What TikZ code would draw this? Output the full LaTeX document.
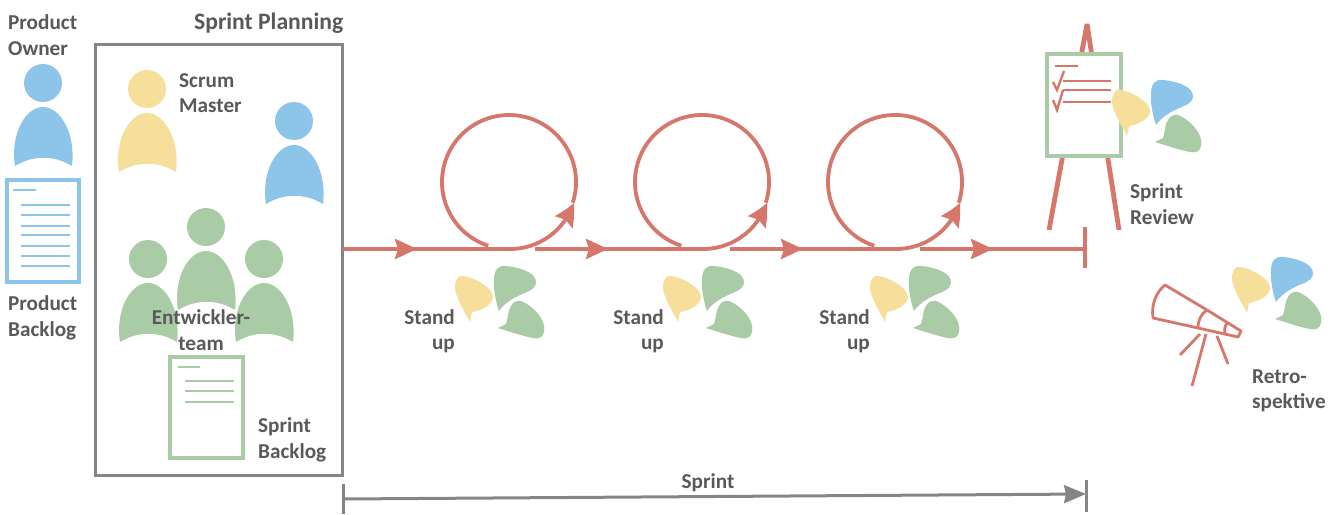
\documentclass[tikz,border=0pt]{standalone}
\usepackage{fontspec}
\setmainfont{Carlito}
\usepackage{tikz}
\usetikzlibrary{arrows.meta}
\usetikzlibrary{bending}
\definecolor{cblue}{HTML}{8CC4EA}
\definecolor{cyellow}{HTML}{F6DF9B}
\definecolor{cgreen}{HTML}{A9CBA5}
\definecolor{cred}{HTML}{D5776B}
\definecolor{cgrey}{HTML}{858585}
\definecolor{ctext}{HTML}{595959}
\tikzset{
  label/.style={font=\fontsize{21.2}{25.3}\selectfont\bfseries, text=ctext, inner sep=0pt, align=left},
  redline/.style={cred, line width=4pt},
  headline/.style={redline, -{Stealth[length=22pt, width=20pt, inset=3pt]}},
  loopline/.style={cred, line width=3.8pt},
  loophead/.style={loopline, -{Stealth[length=22pt, width=21pt, inset=3pt, bend]}},
  greyline/.style={cgrey, line width=3pt},
  sheetline/.style={line width=2.4pt},
  sheet/.style={line width=3.2pt, fill=white},
  scopeline/.style={cred, line width=2.8pt},
}
\newcommand{\person}[3]{
  \begin{scope}[shift={(#2, #3)}]
    \fill [#1] (0, 0) circle (19);
    \fill [#1] (-28, 83)
      .. controls (-33, 50) and (-17, 24) .. (0, 24)
      .. controls (17, 24) and (33, 50) .. (29, 83)
      .. controls (11, 72) and (-10, 72) .. (-28, 83)
      -- cycle;
  \end{scope}
}
\newcommand{\bubbles}[5]{
  \begin{scope}[shift={(#4, #5)}]
    \fill [#1] (-30, 22)
      .. controls (-35, 12) and (-46, -4) .. (-45, -15)
      .. controls (-44, -21) and (-42, -25) .. (-36, -24)
      .. controls (-25, -22) and (-7, -12) .. (-7, -3)
      .. controls (-7, 5) and (-20, 11) .. (-28, 12)
      -- cycle;
    \fill [#2] (-1, 11)
      .. controls (-4, 3) and (-7, -12) .. (-6, -20)
      .. controls (-6, -30) and (-2, -35) .. (6, -34)
      .. controls (18, -33) and (36, -28) .. (36, -18)
      .. controls (36, -10) and (26, -8) .. (18, -4)
      .. controls (10, 0) and (3, 5) .. (-1, 11)
      -- cycle;
    \fill [#3] (-2, 28) -- (6, 24)
      .. controls (8, 18) and (8, 10) .. (11, 6)
      .. controls (13, 2) and (17, 0) .. (21, 1)
      .. controls (32, 5) and (47, 20) .. (44, 32)
      .. controls (43, 38) and (38, 39) .. (33, 38)
      .. controls (22, 36) and (8, 31) .. (-2, 28)
      -- cycle;
  \end{scope}
}

\begin{document}
\begin{tikzpicture}[x=1pt, y=-1pt]
  \useasboundingbox (0, 0) rectangle (1337, 514);

  \node [label, anchor=west] (productowner) at (8, 35) {Product\\Owner};
  \person{cblue}{43}{83}
  \draw [cblue, sheet] (7, 180) rectangle (79, 282);
  \draw [cblue, sheetline] (13, 190) -- ++(23, 0);
  \draw [cblue, sheetline] (21, 205) -- ++(49, 0);
  \draw [cblue, sheetline] (21, 215) -- ++(49, 0);
  \draw [cblue, sheetline] (21, 226) -- ++(49, 0);
  \draw [cblue, sheetline] (21, 235) -- ++(49, 0);
  \draw [cblue, sheetline] (21, 246) -- ++(49, 0);
  \draw [cblue, sheetline] (21, 256) -- ++(49, 0);
  \draw [cblue, sheetline] (21, 266) -- ++(49, 0);
  \node [label, anchor=west] (productbacklog) at (8, 318) {Product\\Backlog};

  \node [label, anchor=west] (sprintplanning) at (194, 23) {\fontsize{23.6}{25}\selectfont Sprint Planning};
  \draw [cgrey, line width=3pt] (95, 44) rectangle (342, 475);
  \person{cyellow}{147}{89}
  \node [label, anchor=west] (scrummaster) at (179, 93) {Scrum\\Master};
  \person{cblue}{294}{121}
  \person{cgreen}{206}{227}
  \person{cgreen}{148}{259}
  \person{cgreen}{264}{259}
  \node [label, align=center] (devteam) at (201, 330) {Entwickler-\\team};
  \draw [cgreen, sheet] (170, 357) rectangle (243, 458);
  \draw [cgreen, sheetline] (178, 367) -- ++(22, 0);
  \draw [cgreen, sheetline] (185, 381) -- ++(49, 0);
  \draw [cgreen, sheetline] (185, 391) -- ++(49, 0);
  \draw [cgreen, sheetline] (185, 402) -- ++(49, 0);
  \node [label, anchor=west] (sprintbacklog) at (258, 440) {Sprint\\Backlog};

  \coordinate (startA) at (343, 249);
  \coordinate (headA) at (417, 249);
  \coordinate (endA) at (510, 249);
  \coordinate (startB) at (535, 249);
  \coordinate (headB) at (608, 249);
  \coordinate (endB) at (703, 249);
  \coordinate (startC) at (730, 249);
  \coordinate (headC) at (803, 249);
  \coordinate (endC) at (896, 249);
  \coordinate (startD) at (920, 249);
  \coordinate (headD) at (993, 249);
  \coordinate (endD) at (1086, 249);
  \coordinate (tickup) at (1085, 227);
  \coordinate (tickdown) at (1085, 268);

  \draw [headline] (startA) -- (headA);
  \draw [redline] (startA) -- (endA);
  \draw [headline] (startB) -- (headB);
  \draw [redline] (startB) -- (endB);
  \draw [headline] (startC) -- (headC);
  \draw [redline] (startC) -- (endC);
  \draw [headline] (startD) -- (headD);
  \draw [redline] (startD) -- (endD);
  \draw [redline] (tickup) -- (tickdown);

  \draw [loopline] (509, 182) ++(108:67) arc (108:378:67);
  \draw [loophead] (endA) arc (90:18:67);
  \draw [loopline] (702, 182) ++(108:67) arc (108:378:67);
  \draw [loophead] (endB) arc (90:18:67);
  \draw [loopline] (895, 182) ++(108:67) arc (108:378:67);
  \draw [loophead] (endC) arc (90:18:67);

  \bubbles{cyellow}{cgreen}{cgreen}{500}{300}
  \node [label, anchor=east, align=right] (standupA) at (455, 331) {Stand\\up};
  \bubbles{cyellow}{cgreen}{cgreen}{708}{300}
  \node [label, anchor=east, align=right] (standupB) at (664, 331) {Stand\\up};
  \bubbles{cyellow}{cgreen}{cgreen}{915}{300}
  \node [label, anchor=east, align=right] (standupC) at (870, 331) {Stand\\up};

  \draw [cred, line width=4.8pt, line join=bevel] (1049, 230) -- (1087, 24) -- (1119, 230);
  \draw [cgreen, sheet] (1047, 54) rectangle (1121, 156);
  \draw [cred, sheetline] (1055, 66) -- ++(23, 0);
  \draw [cred, sheetline] (1063, 81) -- ++(48, 0);
  \draw [cred, sheetline] (1063, 90) -- ++(48, 0);
  \draw [cred, sheetline] (1063, 102) -- ++(48, 0);
  \draw [cred, sheetline] (1053, 82) -- (1057, 90) -- (1064, 71);
  \draw [cred, sheetline] (1053, 100) -- (1057, 110) -- (1063, 90);
  \bubbles{cyellow}{cblue}{cgreen}{1157}{114}
  \node [label, anchor=west] (sprintreview) at (1130, 204) {Sprint\\Review};

  \draw [scopeline, line join=round] (1207, 310) -- (1165, 285)
    .. controls (1156, 292) and (1151, 305) .. (1153, 318) -- (1198, 328)
    .. controls (1198, 320) and (1201, 314) .. (1207, 310);
  \draw [scopeline, line join=round] (1207, 310) -- (1241, 331) -- (1238, 337) -- (1198, 328);
  \draw [scopeline] (1227, 323) .. controls (1225, 326) and (1224, 330) .. (1225, 333);
  \draw [scopeline] (1200, 334) -- (1180, 355);
  \draw [scopeline] (1206, 334) -- (1192, 386);
  \draw [scopeline] (1217, 336) -- (1228, 364);
  \bubbles{cyellow}{cblue}{cgreen}{1277}{291}
  \node [label, anchor=west] (retro) at (1252, 391) {Retro-\\spektive};

  \coordinate (sprintstart) at (343, 499);
  \coordinate (sprintend) at (1086, 494);
  \draw [greyline] (343, 484) -- (343, 514);
  \draw [greyline] (1086, 480) -- (1086, 512);
  \draw [greyline, -{Stealth[length=22pt, width=18pt, inset=2pt]}] (sprintstart) -- (sprintend);
  \node [label] (sprint) at (708, 483) {Sprint};
\end{tikzpicture}
\end{document}
